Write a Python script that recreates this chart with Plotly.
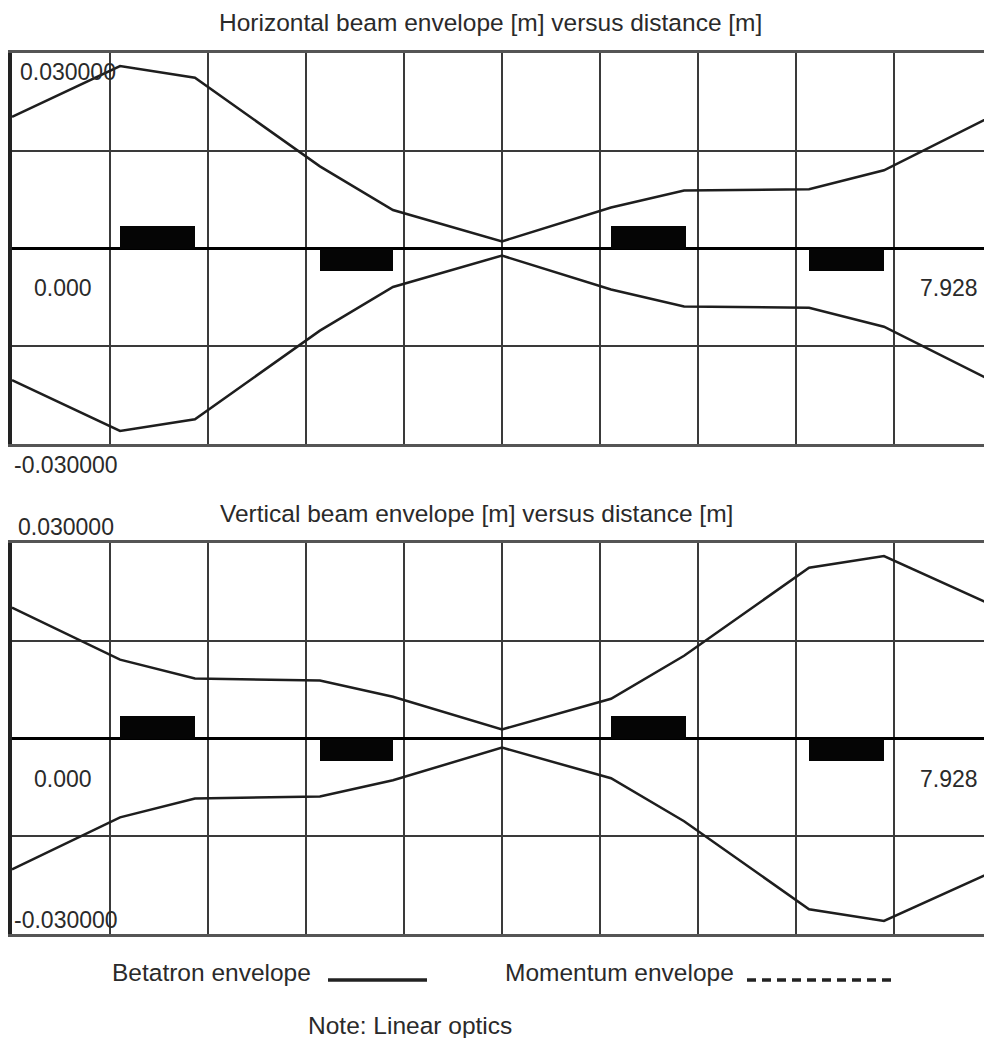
import plotly.graph_objects as go

# ---- data ----
s_pos = [0.0, 0.874, 1.480, 2.491, 3.082, 3.964, 4.846, 5.437, 6.448, 7.054, 7.928]
env_horizontal = [0.0202, 0.0280, 0.0262, 0.0126, 0.0059, 0.0011, 0.0063, 0.0089, 0.0091, 0.0120, 0.0203]
env_vertical = [0.0201, 0.0121, 0.0092, 0.0089, 0.0064, 0.0014, 0.0061, 0.0127, 0.0262, 0.0280, 0.0205]

quad_start = [0.874, 2.491, 4.846, 6.448]
quad_end = [1.480, 3.082, 5.452, 7.054]
quad_sign = [1, -1, 1, -1]
quad_height = 0.0035

total_length = 7.928
y_max = 0.03
titles = ["Horizontal beam envelope [m] versus distance [m]",
          "Vertical beam envelope [m] versus distance [m]"]
legend_labels = ["Betatron envelope", "Momentum envelope"]
note_text = "Note: Linear optics"

W, H = 984, 1038
FONT = "Liberation Sans, Arial, sans-serif"
TXT = "#2a2a2a"
FS = 23

def px(xp):
    return xp / W

def py(yp):
    return 1 - yp / H

fig = go.Figure()

panels = [
    dict(env=env_horizontal, xa="x", ya="y", top=53, bot=444),
    dict(env=env_vertical, xa="x2", ya="y2", top=543, bot=934),
]

x_left_px, x_right_px = 12, 984
full_px = 980  # pixel width of full 0..total_length span
x_range_end = total_length * (x_right_px - x_left_px) / full_px

for i, p in enumerate(panels):
    centers = [(a + b) / 2 for a, b in zip(quad_start, quad_end)]
    widths = [b - a for a, b in zip(quad_start, quad_end)]
    fig.add_trace(go.Bar(
        x=centers, y=[sg * quad_height for sg in quad_sign], base=0,
        width=widths, marker=dict(color="#050505", line=dict(width=0)),
        xaxis=p["xa"], yaxis=p["ya"], showlegend=False, hoverinfo="skip"))
    fig.add_trace(go.Scatter(
        x=s_pos, y=p["env"], mode="lines",
        line=dict(color="#1e1e1e", width=2.5),
        xaxis=p["xa"], yaxis=p["ya"], showlegend=False))
    fig.add_trace(go.Scatter(
        x=s_pos, y=[-v for v in p["env"]], mode="lines",
        line=dict(color="#1e1e1e", width=2.5),
        xaxis=p["xa"], yaxis=p["ya"], showlegend=False))

axis_common_x = dict(
    range=[0, x_range_end], tick0=0, dtick=total_length / 10,
    showgrid=True, gridcolor="#3a3a3a", gridwidth=2,
    showticklabels=False, ticks="", zeroline=False,
    showline=True, mirror=True, linecolor="#555555", linewidth=3,
    domain=[x_left_px / W, 1], fixedrange=True,
)
axis_common_y = dict(
    range=[-y_max, y_max], tick0=0, dtick=y_max / 2,
    showgrid=True, gridcolor="#3a3a3a", gridwidth=2,
    showticklabels=False, ticks="",
    zeroline=True, zerolinecolor="#000000", zerolinewidth=3,
    showline=True, mirror=False, linecolor="#222222", linewidth=4,
    fixedrange=True,
)

fig.update_layout(
    width=W, height=H,
    margin=dict(l=0, r=0, t=0, b=0),
    paper_bgcolor="white", plot_bgcolor="white",
    bargap=0, barmode="overlay",
    xaxis=dict(axis_common_x, anchor="y"),
    yaxis=dict(axis_common_y, anchor="x", domain=[py(444), py(53)]),
    xaxis2=dict(axis_common_x, anchor="y2"),
    yaxis2=dict(axis_common_y, anchor="x2", domain=[py(934), py(543)]),
    font=dict(family=FONT, color=TXT, size=FS),
    showlegend=False,
)

annotations = []

def add_text(text, x, y, xanchor="left", size=FS):
    annotations.append(dict(
        text=text, x=px(x), y=py(y), xref="paper", yref="paper",
        xanchor=xanchor, yanchor="middle", showarrow=False,
        font=dict(family=FONT, color=TXT, size=size)))

add_text(titles[0], 490, 23, xanchor="center", size=24.5)
add_text(titles[1], 476, 513, xanchor="center", size=24.5)

for p, top_lbl_x in zip(panels, [18, 16]):
    top, bot = p["top"], p["bot"]
    mid = (top + bot) / 2
    add_text(f"{y_max:.6f}", top_lbl_x, top + 19 if top == 53 else top - 16)
    add_text(f"{0:.3f}", 32, mid + 40)
    add_text(f"{total_length:.3f}", 918, mid + 40)
    add_text(f"{-y_max:.6f}", 12, bot + 21 if bot == 444 else bot - 14)

add_text(legend_labels[0], 110, 972, size=24.5)
add_text(legend_labels[1], 503, 972, size=24.5)
add_text(note_text, 306, 1025, size=24.5)

fig.update_layout(annotations=annotations)

shapes = [
    dict(type="line", xref="paper", yref="paper", x0=px(328), x1=px(427), y0=py(980), y1=py(980),
         line=dict(color="#222222", width=3.5)),
    dict(type="line", xref="paper", yref="paper", x0=px(747), x1=px(892), y0=py(980), y1=py(980),
         line=dict(color="#222222", width=3.5, dash="9px,6px")),
]
fig.update_layout(shapes=shapes)

fig.write_html(
    "out.html",
    config={"displayModeBar": False},
    post_script="document.body.style.margin='0';document.body.style.overflow='hidden';",
)
